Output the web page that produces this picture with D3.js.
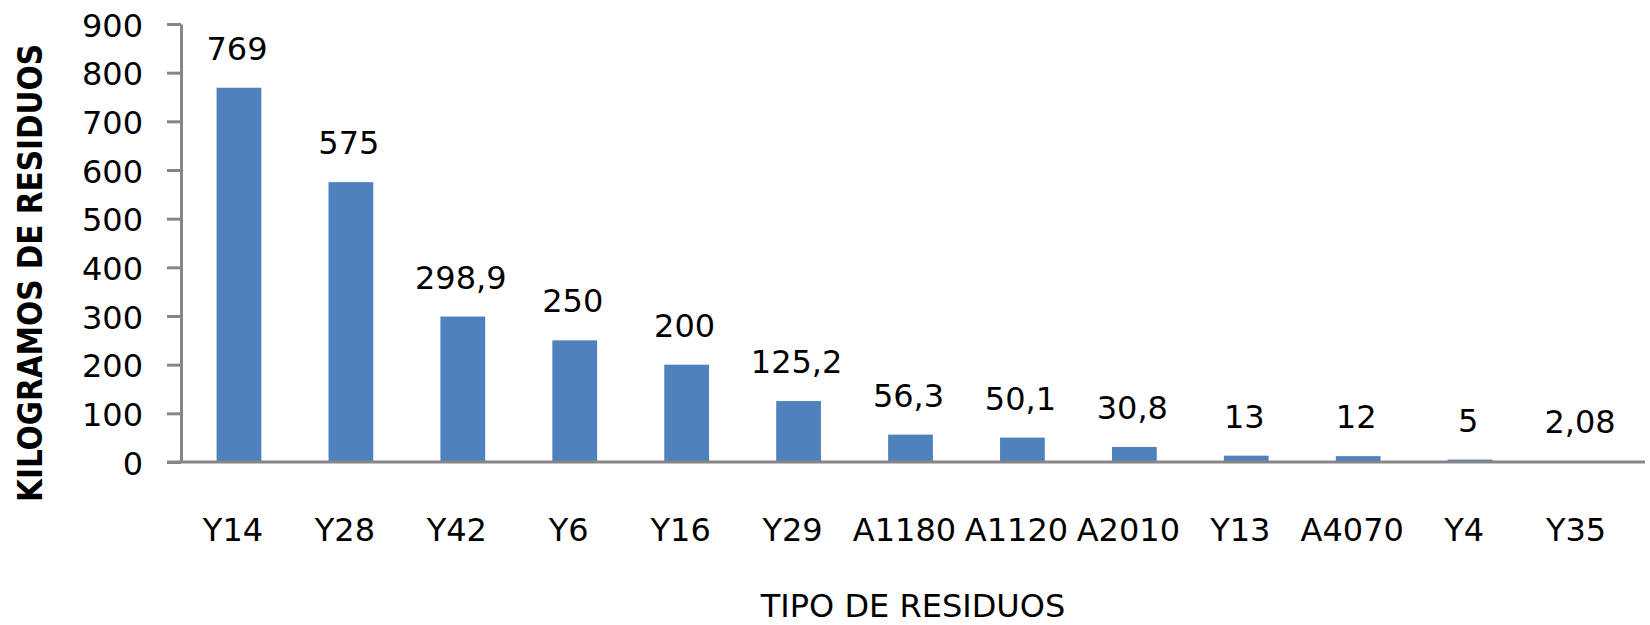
<!DOCTYPE html>
<html>
<head>
<meta charset="utf-8">
<script src="https://cdn.jsdelivr.net/npm/d3@7"></script>
<style>
  body { margin: 0; background: #fff; }
  text { font-family: "DejaVu Sans", sans-serif; fill: #000; }
</style>
</head>
<body>
<div id="chart"></div>
<script>
// data
const categories = ['Y14', 'Y28', 'Y42', 'Y6', 'Y16', 'Y29', 'A1180', 'A1120', 'A2010', 'Y13', 'A4070', 'Y4', 'Y35'];
const values = [769, 575, 298.9, 250, 200, 125.2, 56.3, 50.1, 30.8, 13, 12, 5, 2.08];
const labels = ['769', '575', '298,9', '250', '200', '125,2', '56,3', '50,1', '30,8', '13', '12', '5', '2,08'];
const yTicks = [0, 100, 200, 300, 400, 500, 600, 700, 800, 900];

const width = 1650;
const height = 625;
const margin = {top: 24, right: 5, bottom: 163, left: 181};
const axisColor = '#868686';
const barColor = '#4F81BD';

const data = categories.map((c, i) => ({cat: c, value: values[i], label: labels[i]}));

const svg = d3.select('#chart')
  .append('svg')
  .attr('width', width)
  .attr('height', height);

svg.append('rect').attr('width', width).attr('height', height).attr('fill', '#fff');

const x = d3.scaleBand()
  .domain(categories)
  .range([margin.left + 2, width - margin.right - 7])
  .paddingInner(0.6)
  .paddingOuter(0.3);

const y = d3.scaleLinear()
  .domain([0, 900])
  .range([height - margin.bottom, margin.top]);

// bars
svg.append('g')
  .selectAll('rect')
  .data(data)
  .join('rect')
  .attr('x', d => x(d.cat))
  .attr('y', d => y(d.value))
  .attr('width', x.bandwidth())
  .attr('height', d => y(0) - y(d.value))
  .attr('fill', barColor);

// value labels
svg.append('g')
  .selectAll('text')
  .data(data)
  .join('text')
  .attr('x', d => x(d.cat) + x.bandwidth() / 2 - 2)
  .attr('y', d => y(d.value) - 28)
  .attr('text-anchor', 'middle')
  .style('font-size', '32px')
  .text(d => d.label);

// y axis
const yAxis = svg.append('g')
  .attr('transform', `translate(${margin.left},0)`)
  .call(d3.axisLeft(y).tickValues(yTicks).tickSize(14).tickSizeOuter(0).tickPadding(24));
yAxis.select('.domain').attr('stroke', axisColor).attr('stroke-width', 3);
yAxis.selectAll('.tick line').attr('stroke', axisColor).attr('stroke-width', 3);
yAxis.selectAll('.tick text')
  .attr('dy', '0.38em')
  .style('font-size', '32px')
  .style('font-family', '"DejaVu Sans", sans-serif')
  .attr('fill', '#000');

// x axis
const xAxis = svg.append('g')
  .attr('transform', `translate(0,${y(0)})`)
  .call(d3.axisBottom(x).tickSize(0).tickSizeOuter(0));
xAxis.select('.domain').remove();
xAxis.selectAll('.tick text')
  .attr('y', 79)
  .attr('dy', 0)
  .attr('dx', -6)
  .style('font-size', '32px')
  .style('font-family', '"DejaVu Sans", sans-serif')
  .attr('fill', '#000');

svg.append('line')
  .attr('x1', margin.left - 14)
  .attr('x2', width - margin.right)
  .attr('y1', y(0))
  .attr('y2', y(0))
  .attr('stroke', axisColor)
  .attr('stroke-width', 3);

// axis titles
svg.append('text')
  .attr('x', (margin.left + width - margin.right) / 2)
  .attr('y', 617)
  .attr('text-anchor', 'middle')
  .style('font-size', '32px')
  .text('TIPO DE RESIDUOS');

svg.append('text')
  .attr('transform', 'rotate(-90)')
  .attr('x', -273)
  .attr('y', 42)
  .attr('text-anchor', 'middle')
  .attr('textLength', 458)
  .attr('lengthAdjust', 'spacingAndGlyphs')
  .style('font-family', '"DejaVu Sans Condensed", "DejaVu Sans", sans-serif')
  .style('font-size', '34px')
  .style('font-weight', 'bold')
  .text('KILOGRAMOS DE RESIDUOS');
</script>
</body>
</html>
